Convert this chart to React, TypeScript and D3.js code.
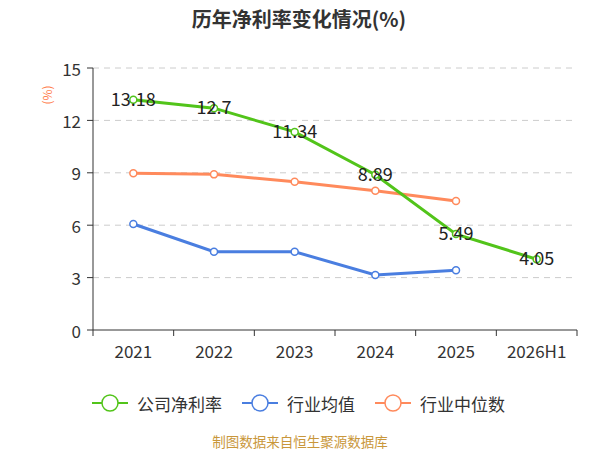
import React from "react";
import * as d3 from "d3";

const categories = ["2021", "2022", "2023", "2024", "2025", "2026H1"];
const companyNet = [13.18, 12.7, 11.34, 8.89, 5.49, 4.05];
const industryAvg = [6.07, 4.48, 4.48, 3.15, 3.42];
const industryMedian = [8.97, 8.91, 8.49, 7.97, 7.38];
const yTicks = [0, 3, 6, 9, 12, 15];

const seriesNames = ["公司净利率", "行业均值", "行业中位数"];
const colors = ["#52c41a", "#4a7ee0", "#ff8a5c"];

const FONT = "'Noto Sans CJK SC', 'Noto Sans', sans-serif";

export default function App() {
  const width = 600;
  const height = 450;
  const left = 93, right = 577, top = 68, bottom = 330;

  const x = d3.scaleBand<string>().domain(categories).range([left, right]);
  const y = d3.scaleLinear().domain([0, 15]).range([bottom, top]);
  const cx = (c: string) => (x(c) as number) + x.bandwidth() / 2;

  const line = d3
    .line<number>()
    .x((_, i) => cx(categories[i]))
    .y((d) => y(d));

  const allSeries = [companyNet, industryAvg, industryMedian];
  const drawOrder = [1, 2, 0];

  const legendX = [92, 242, 375];

  return (
    <svg
      width={width}
      height={height}
      style={{ position: "absolute", left: 0, top: 0, fontFamily: FONT }}
    >
      <rect x={0} y={0} width={width} height={height} fill="#fff" />
      <text
        x={299}
        y={18}
        textAnchor="middle"
        dominantBaseline="central"
        fontSize={20}
        fontWeight="bold"
        fill="#333"
      >
        历年净利率变化情况(%)
      </text>
      <text
        transform={`translate(46,95) rotate(-90)`}
        textAnchor="middle"
        dominantBaseline="central"
        fontSize={12}
        fill="#ff7f50"
      >
        (%)
      </text>

      {yTicks.map((t) => (
        <g key={t}>
          {t !== 0 && (
            <line
              x1={left}
              x2={right}
              y1={y(t)}
              y2={y(t)}
              stroke="#cccccc"
              strokeDasharray="6,5"
            />
          )}
          <line x1={left - 6} x2={left} y1={y(t)} y2={y(t)} stroke="#333" />
          <text
            x={left - 12}
            y={y(t)}
            textAnchor="end"
            dominantBaseline="central"
            fontSize={17}
            fill="#333"
          >
            {t}
          </text>
        </g>
      ))}
      <line x1={left} x2={left} y1={top} y2={bottom} stroke="#333" />
      <line x1={left} x2={right} y1={bottom} y2={bottom} stroke="#333" />
      {categories.map((c, i) => (
        <line
          key={"t" + i}
          x1={x(c) as number}
          x2={x(c) as number}
          y1={bottom}
          y2={bottom + 6}
          stroke="#333"
        />
      ))}
      <line x1={right} x2={right} y1={bottom} y2={bottom + 6} stroke="#333" />
      {categories.map((c) => (
        <text
          key={c}
          x={cx(c)}
          y={bottom + 20}
          textAnchor="middle"
          dominantBaseline="central"
          fontSize={17}
          fill="#333"
        >
          {c}
        </text>
      ))}

      {drawOrder.map((si) => {
        const data = allSeries[si];
        return (
          <g key={si}>
            <path
              d={line(data) || ""}
              fill="none"
              stroke={colors[si]}
              strokeWidth={3}
            />
            {data.map((v, i) => (
              <circle
                key={i}
                cx={cx(categories[i])}
                cy={y(v)}
                r={3.5}
                fill="#fff"
                stroke={colors[si]}
                strokeWidth={1.5}
              />
            ))}
          </g>
        );
      })}
      {companyNet.map((v, i) => (
        <text
          key={"l" + i}
          x={cx(categories[i])}
          y={y(v) - 2}
          textAnchor="middle"
          dominantBaseline="central"
          fontSize={18}
          fill="#222"
        >
          {v}
        </text>
      ))}

      {seriesNames.map((n, i) => (
        <g key={n}>
          <line
            x1={legendX[i]}
            x2={legendX[i] + 36}
            y1={403}
            y2={403}
            stroke={colors[i]}
            strokeWidth={2}
          />
          <circle
            cx={legendX[i] + 18}
            cy={403}
            r={8}
            fill="#fff"
            stroke={colors[i]}
            strokeWidth={1.5}
          />
          <text
            x={legendX[i] + 45}
            y={403}
            dominantBaseline="central"
            fontSize={17}
            fill="#333"
          >
            {n}
          </text>
        </g>
      ))}

      <text
        x={300}
        y={441}
        textAnchor="middle"
        dominantBaseline="central"
        fontSize={13.5}
        fill="#c9973b"
      >
        制图数据来自恒生聚源数据库
      </text>
    </svg>
  );
}
